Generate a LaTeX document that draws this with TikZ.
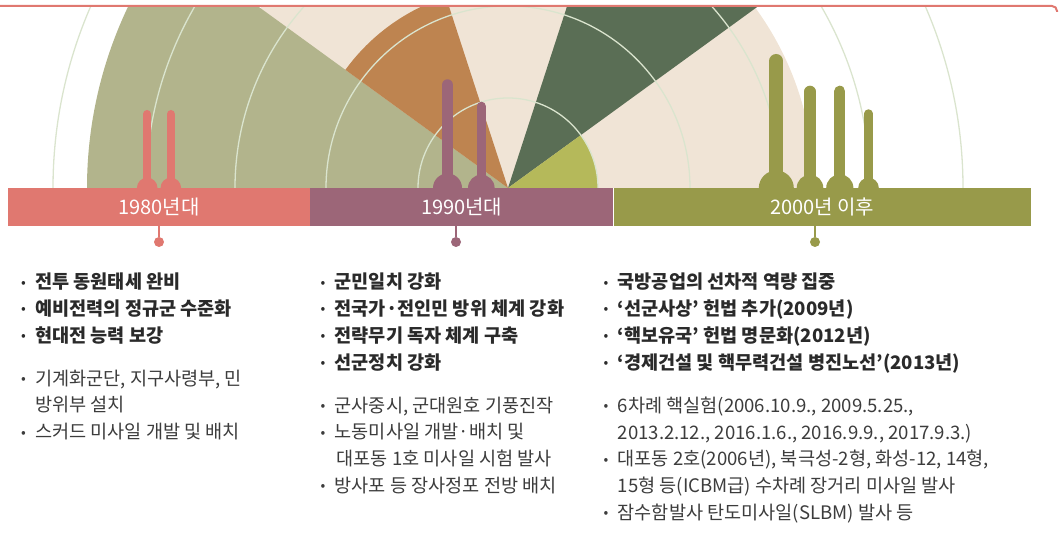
\documentclass[tikz,border=0pt]{standalone}
\usepackage{fontspec}
\setmainfont{Noto Sans CJK KR}
\usetikzlibrary{calc,positioning}

\definecolor{eighties}{HTML}{E07870}
\definecolor{nineties}{HTML}{9C6678}
\definecolor{noughties}{HTML}{989A4A}
\definecolor{sage}{HTML}{B2B48C}
\definecolor{sand}{HTML}{F0E4D6}
\definecolor{clay}{HTML}{BE8450}
\definecolor{pine}{HTML}{5A6E55}
\definecolor{lime}{HTML}{B5B95A}
\definecolor{ringline}{HTML}{DAE4CE}
\definecolor{ink}{HTML}{2A2A2A}
\definecolor{note}{HTML}{3C3C3C}

\pgfkeys{
  /rocket/.cd,
  x/.initial=0,
  top/.initial=400,
  body/.initial=8,
  fin/.initial=10,
  colour/.initial=black
}
\newcommand{\rocket}[1][]{
    {
        \pgfkeys{/rocket/.cd,#1}
        \pgfkeys{/rocket/x/.get=\rocketx}
        \pgfkeys{/rocket/top/.get=\rockettop}
        \pgfkeys{/rocket/body/.get=\rocketbody}
        \pgfkeys{/rocket/fin/.get=\rocketfin}
        \pgfkeys{/rocket/colour/.get=\rocketcolour}
        \fill[\rocketcolour] ({\rocketx-\rocketfin},357) arc[start angle=180,end angle=0,radius=\rocketfin];
        \draw[\rocketcolour,line width=\rocketbody pt,line cap=round] (\rocketx,357) -- (\rocketx,{\rockettop-\rocketbody/2});
    }
}
% small bullet, kept on the text's middle
\newcommand{\itm}{\makebox[14pt][l]{\raisebox{1.6pt}{\mdseries\fontsize{14}{14}\selectfont\textbullet}}}

\begin{document}
\begin{tikzpicture}[x=1pt,y=1pt,
    ring/.style={ringline,line width=1.3pt},
    bar/.style={minimum height=38pt,inner sep=0pt,text=white,font=\fontsize{20}{20}\selectfont},
    dot/.style={circle,minimum size=10pt,inner sep=0pt},
    stem/.style={line width=2pt},
    keyline/.style={anchor=base west,inner sep=0pt,align=left,text=ink,font=\bfseries\fontsize{18.6}{26.8}\selectfont},
    noteline/.style={anchor=base west,inner sep=0pt,align=left,text=note,font=\fontsize{18.6}{26.8}\selectfont}]
    \useasboundingbox (0,0) rectangle (1059,545);
    \coordinate (hub) at (508,357);

    % fan behind the time line
    \begin{scope}
        \clip (0,0) rectangle (1059,538);
        \fill[sand] (hub) -- ++(0:306) arc[start angle=0,end angle=180,radius=306] -- cycle;
        \fill[sage] (hub) -- ++(144:421) arc[start angle=144,end angle=180,radius=421] -- cycle;
        \fill[clay] (hub) -- ++(108:201) arc[start angle=108,end angle=144,radius=201] -- cycle;
        \fill[pine] (hub) -- ++(36:330) arc[start angle=36,end angle=72,radius=330] -- cycle;
        \fill[lime] (hub) -- ++(0:90) arc[start angle=0,end angle=36,radius=90] -- cycle;
        \foreach \r in {90,182,273,362,455} {
            \draw[ring] (hub) ++(0:\r) arc[start angle=0,end angle=180,radius=\r];
        }
    \end{scope}
    \draw[eighties,line width=2pt,rounded corners=5pt] (0,539) -- (1057,539) -- (1057,533);

    % missiles
    \rocket[x=147.2,top=435,body=7.7,fin=10.3,colour=eighties]
    \rocket[x=170.8,top=435,body=8.3,fin=10.3,colour=eighties]
    \rocket[x=447.5,top=465.7,body=11.7,fin=14.5,colour=nineties]
    \rocket[x=481.3,top=443.3,body=9.3,fin=13.3,colour=nineties]
    \rocket[x=776.3,top=491,body=14,fin=17.5,colour=noughties]
    \rocket[x=810,top=459.3,body=11.7,fin=13.3,colour=noughties]
    \rocket[x=839.8,top=459.3,body=11,fin=13.6,colour=noughties]
    \rocket[x=868.5,top=435.7,body=8.4,fin=10.3,colour=noughties]

    % time line
    \node[bar,fill=eighties,minimum width=302pt] (bar80) at (159,338) {1980년대};
    \node[bar,fill=nineties,minimum width=302.7pt,right=0pt of bar80] (bar90) {1990년대};
    \node[bar,fill=noughties,minimum width=417.3pt,right=0pt of bar90] (bar00) {2000년 이후};

    \node[dot,fill=eighties] (dot80) at (159,303) {};
    \node[dot,fill=nineties] (dot90) at (456,303) {};
    \node[dot,fill=noughties] (dot00) at (815,303) {};
    \draw[stem,eighties] (bar80.south -| dot80) -- (dot80);
    \draw[stem,nineties] (bar90.south -| dot90) -- (dot90);
    \draw[stem,noughties] (bar00.south -| dot00) -- (dot00);

    % 1980s (nodes sit on the baseline of their last line)
    \node[keyline] (key80) at (21,202.6) {\itm 전투 동원태세 완비\\\itm 예비전력의 정규군 수준화\\\itm 현대전 능력 보강};
    \node[noteline] (note80) at (21,106.3) {\itm 기계화군단, 지구사령부, 민\\\hspace*{14pt}방위부 설치\\\itm 스커드 미사일 개발 및 배치};

    % 1990s
    \node[keyline] (key90) at (320.5,175.8) {\itm 군민일치 강화\\\itm 전국가·전인민 방위 체계 강화\\\itm 전략무기 독자 체계 구축\\\itm 선군정치 강화};
    \node[noteline] (note90) at (320.5,52.4) {\itm 군사중시, 군대원호 기풍진작\\\itm 노동미사일 개발·배치 및\\\hspace*{16pt}대포동 1호 미사일 시험 발사\\\itm 방사포 등 장사정포 전방 배치};

    % 2000s
    \node[keyline] (key00) at (603.5,175.9) {\itm 국방공업의 선차적 역량 집중\\\itm ‘선군사상’ 헌법 추가(2009년)\\\itm ‘핵보유국’ 헌법 명문화(2012년)\\\itm ‘경제건설 및 핵무력건설 병진노선’(2013년)};
    \node[noteline] (note00) at (603.5,25.4) {\itm 6차례 핵실험(2006.10.9., 2009.5.25.,\\\hspace*{14pt}2013.2.12., 2016.1.6., 2016.9.9., 2017.9.3.)\\\itm 대포동 2호(2006년), 북극성-2형, 화성-12, 14형,\\\hspace*{14pt}15형 등(ICBM급) 수차례 장거리 미사일 발사\\\itm 잠수함발사 탄도미사일(SLBM) 발사 등};
\end{tikzpicture}
\end{document}
